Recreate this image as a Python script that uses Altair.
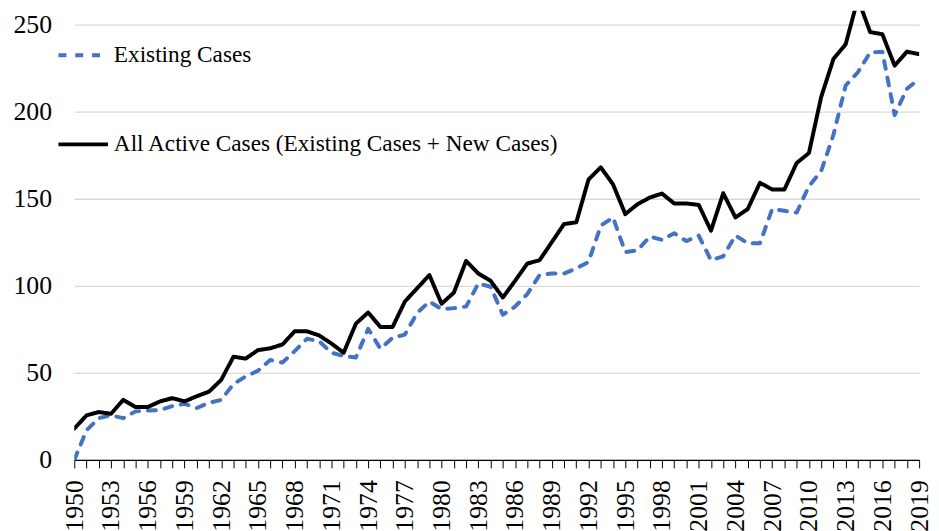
import altair as alt
import pandas as pd

years = list(range(1950, 2020))

existing_cases = [
    0, 17, 24, 25.6, 24, 27.9, 28.4, 28.6, 30.9, 32.2,
    29.8, 32.8, 34.5, 43.6, 48, 51.2, 57.4, 55.9, 62.5, 69.6,
    68.2, 61.6, 59.7, 58.8, 75.3, 63.9, 70.2, 72, 84.4, 91,
    86.6, 87.2, 88.1, 101.4, 99.5, 83.4, 88.1, 95.3, 106.2, 107.1,
    107.1, 110, 113.7, 134.6, 139.3, 119.4, 120.4, 128.3, 126.4, 130.2,
    125.7, 128.9, 114.7, 117, 128.9, 124.5, 124.5, 144.1, 143.1, 142.1,
    157.3, 165.9, 186.7, 215.1, 222.7, 234.1, 234.5, 198.1, 213.2, 218.9,
]

all_active_cases = [
    18, 25.6, 27.5, 26.5, 34.5, 30.4, 30.4, 33.6, 35.5, 33.6,
    36.6, 39.2, 46, 59.3, 58.2, 63.1, 64.1, 66.3, 73.9, 73.9,
    71.5, 66.9, 61.6, 78.3, 84.7, 76.4, 76.4, 91, 98.6, 106.2,
    89.7, 96.1, 114.3, 107.1, 102.9, 93.3, 102.9, 112.8, 114.7, 125.1,
    135.5, 136.5, 161.1, 168.1, 158.3, 141.2, 146.9, 150.7, 153, 147.3,
    147.3, 146.5, 131.7, 153.2, 139.3, 144.1, 159.2, 155.4, 155.4, 170.6,
    176.3, 208.5, 230.3, 238.8, 265, 245.8, 244.5, 226.5, 234.5, 233.1,
]

series_names = ["Existing Cases", "All Active Cases (Existing Cases + New Cases)"]
series_colors = ["#4472C4", "#000000"]

df = pd.concat([
    pd.DataFrame({"year": years, "value": existing_cases, "series": series_names[0], "order": 0}),
    pd.DataFrame({"year": years, "value": all_active_cases, "series": series_names[1], "order": 1}),
])

y_ticks = [0, 50, 100, 150, 200, 250]
FONT = "Liberation Serif"

chart = alt.Chart(df).mark_line(
    strokeWidth=4, strokeJoin="round", strokeCap="round", clip=True
).encode(
    x=alt.X("year:Q",
            scale=alt.Scale(domain=[1950, 2019], nice=False, zero=False),
            axis=alt.Axis(
                title=None, values=years, format="d",
                labelExpr="(datum.value - 1950) % 3 == 0 ? datum.label : ''",
                labelAngle=-90, labelFont=FONT, labelFontSize=26, labelColor="#000",
                labelPadding=12, tickSize=8, tickColor="#000", tickWidth=1,
                domainColor="#000", domainWidth=1.2, grid=False, labelOverlap=False,
                labelFlush=False,
            )),
    y=alt.Y("value:Q",
            scale=alt.Scale(domain=[0, 258], nice=False),
            axis=alt.Axis(
                title=None, values=y_ticks, labelFont=FONT, labelFontSize=26,
                labelColor="#000", domain=False, ticks=False, tickSize=0,
                labelPadding=23, grid=True, gridColor="#d9d9d9", gridWidth=1.3,
            )),
    color=alt.Color("series:N",
                    scale=alt.Scale(domain=series_names, range=series_colors),
                    legend=alt.Legend(
                        title=None, orient="none", legendX=-18, legendY=18,
                        symbolType="stroke", symbolSize=2500, symbolStrokeWidth=4,
                        labelFont=FONT, labelFontSize=23.5, labelColor="#000",
                        labelOffset=4, rowPadding=51, padding=0, labelLimit=0,
                    )),
    strokeDash=alt.StrokeDash("series:N",
                              scale=alt.Scale(domain=series_names, range=[[8, 9], [1, 0]]),
                              legend=None),
    order="order:Q",
).properties(
    width=854, height=454,
    padding={"left": 67, "top": 0, "right": 12, "bottom": 69},
    autosize=alt.AutoSizeParams(type="none"),
).configure_view(stroke=None)

chart.save("out.html", embed_options={"renderer": "svg", "actions": False})
